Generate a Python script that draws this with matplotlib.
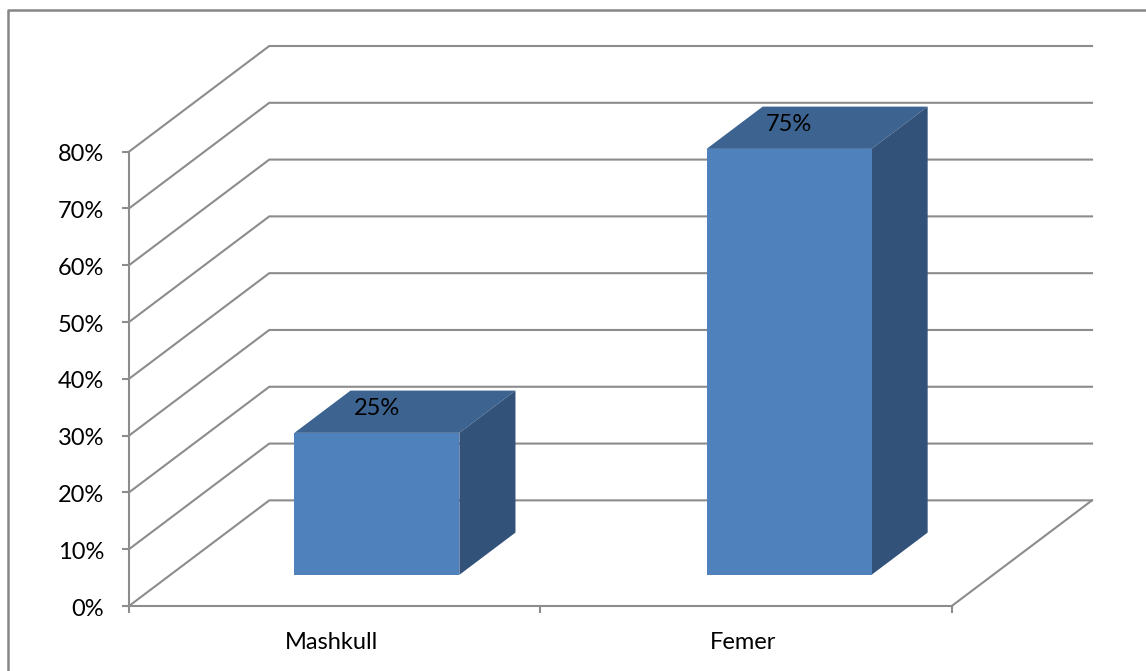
import matplotlib
matplotlib.use("Agg")
import matplotlib.pyplot as plt
from matplotlib.patches import Polygon
from matplotlib.lines import Line2D
from matplotlib.transforms import ScaledTranslation

categories = ["Mashkull", "Femer"]
values = [25, 75]
y_ticks = [0, 10, 20, 30, 40, 50, 60, 70, 80]

# fake 3d: how far the back wall is shifted from the front plane
DX = 0.341
DY = 18.6
BAR_WIDTH = 0.401
GAP = 0.295    # depth where the bar starts
DEPTH = 0.40   # depth of the bar itself
GREY = "#8c8c8c"
FS = 17

plt.rcParams["font.family"] = ["Lato", "DejaVu Sans"]

fig = plt.figure(figsize=(11.46, 6.71), dpi=100)
W, H = 1146, 671
left, right, bottom, top = 129, 1092, 606, 46
ax = fig.add_axes([left / W, 1 - bottom / H, (right - left) / W, (bottom - top) / H])
ax.set_xlim(0, 2 + DX)
ax.set_ylim(0, 80 + DY)
ax.patch.set_visible(False)

# walls and floor
for y in y_ticks:
    ax.plot([0, DX, 2 + DX], [y, y + DY, y + DY], color=GREY, lw=1.5, zorder=1,
            solid_joinstyle="miter", clip_on=False)
ax.plot([2, 2 + DX], [0, DY], color=GREY, lw=1.5, zorder=1, clip_on=False)

for i, v in enumerate(values):
    x0 = i + 0.5 - BAR_WIDTH / 2 + GAP * DX + 0.002 + 0.002 * i
    x1 = x0 + BAR_WIDTH
    y0 = GAP * DY
    y1 = y0 + v
    sx, sy = DEPTH * DX, DEPTH * DY
    ax.add_patch(Polygon([(x0, y1), (x1, y1), (x1 + sx, y1 + sy), (x0 + sx, y1 + sy)],
                         fc="#3d6390", ec="none", zorder=3))
    ax.add_patch(Polygon([(x1, y0), (x1 + sx, y0 + sy), (x1 + sx, y1 + sy), (x1, y1)],
                         fc="#325279", ec="none", zorder=3))
    ax.add_patch(Polygon([(x0, y0), (x1, y0), (x1, y1), (x0, y1)],
                         fc="#4f81bd", ec="none", zorder=4))
    ax.annotate(f"{v}%", ((x0 + x1) / 2, y1), xytext=(0, 24), textcoords="offset pixels",
                ha="center", va="center", fontsize=FS, color="black", zorder=6)

for s in ["top", "right"]:
    ax.spines[s].set_visible(False)
ax.spines["left"].set_bounds(0, 80)
ax.spines["bottom"].set_bounds(0, 2)
for s in ["left", "bottom"]:
    ax.spines[s].set_color(GREY)
    ax.spines[s].set_linewidth(1.5)
    ax.spines[s].set_zorder(5)

ax.set_yticks(y_ticks)
ax.set_yticklabels([f"{y}%" for y in y_ticks])
ax.set_xticks([0, 1, 2])
ax.set_xticklabels([])
ax.set_xticks([0.5, 1.5], minor=True)
ax.set_xticklabels(categories, minor=True)
ax.tick_params(axis="both", which="major", length=5, width=1.5, color=GREY)
ax.tick_params(axis="x", which="minor", length=0, pad=19, labelsize=FS)
ax.tick_params(axis="y", labelsize=FS, pad=13)

# labels sit a little off their ticks in the original
for lab in ax.get_yticklabels():
    lab.set_transform(lab.get_transform() + ScaledTranslation(0, -1 / 100, fig.dpi_scale_trans))
for lab in ax.get_xticklabels(minor=True):
    lab.set_transform(lab.get_transform() + ScaledTranslation(-3 / 100, 0, fig.dpi_scale_trans))

# frame, only left and top edges are in the picture
fig.add_artist(Line2D([7.5 / W, 7.5 / W, 1], [0, 1 - 10 / H, 1 - 10 / H],
                      color="#868686", lw=1.8, transform=fig.transFigure))

fig.savefig("out.png", dpi=100)
